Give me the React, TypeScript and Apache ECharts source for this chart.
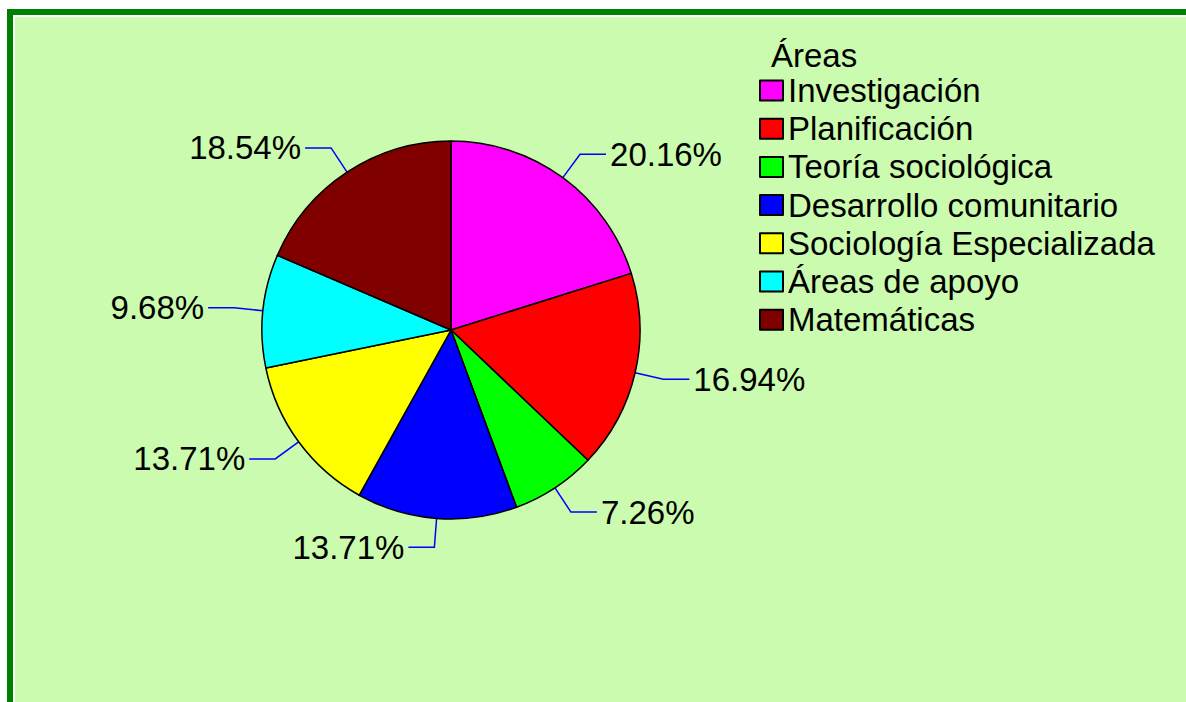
import React, { useEffect, useRef } from "react";
import * as echarts from "echarts";

const legendTitle = "Áreas";
const categories = [
  "Investigación",
  "Planificación",
  "Teoría sociológica",
  "Desarrollo comunitario",
  "Sociología Especializada",
  "Áreas de apoyo",
  "Matemáticas",
];
const percentages = [20.16, 16.94, 7.26, 13.71, 13.71, 9.68, 18.54];
const sliceColors = ["#FF00FF", "#FF0000", "#00FF00", "#0000FF", "#FFFF00", "#00FFFF", "#800000"];

const FONT = "'Liberation Sans', Arial, sans-serif";

export default function App() {
  const ref = useRef<HTMLDivElement>(null);

  useEffect(() => {
    document.body.style.margin = "0";
    document.body.style.overflow = "hidden";
    if (!ref.current) return;
    const chart = echarts.init(ref.current, undefined, { renderer: "svg" });
    chart.setOption({
      animation: false,
      backgroundColor: "#FFFFFF",
      color: sliceColors,
      graphic: [
        { type: "rect", z: -3, silent: true, shape: { x: 7, y: 9, width: 1200, height: 720 }, style: { fill: "#008000" } },
        { type: "rect", z: -2, silent: true, shape: { x: 13, y: 15, width: 1200, height: 720 }, style: { fill: "#FFFFFF" } },
        { type: "rect", z: -1, silent: true, shape: { x: 15, y: 17, width: 1200, height: 720 }, style: { fill: "#CBFBAE" } },
        {
          type: "text",
          z: 5,
          x: 771,
          y: 55,
          style: {
            text: legendTitle,
            fontFamily: FONT,
            fontSize: 33,
            fill: "#000000",
            verticalAlign: "middle",
            align: "left",
          },
        },
      ],
      legend: {
        orient: "vertical",
        left: 759,
        top: 74,
        padding: 0,
        itemWidth: 23,
        itemHeight: 20,
        itemGap: 5.2,
        icon: "rect",
        itemStyle: { borderColor: "#000000", borderWidth: 2 },
        textStyle: { fontFamily: FONT, fontSize: 33, color: "#000000", lineHeight: 33 },
        data: categories,
      },
      series: [
        {
          type: "pie",
          center: [451, 330],
          radius: 189,
          startAngle: 90,
          clockwise: true,
          avoidLabelOverlap: false,
          itemStyle: { borderColor: "#000000", borderWidth: 1.5 },
          label: {
            show: true,
            position: "outside",
            fontFamily: FONT,
            fontSize: 33,
            color: "#000000",
            distanceToLabelLine: 4,
            formatter: (p: any) => `${Number(p.value).toFixed(2)}%`,
          },
          labelLine: {
            show: true,
            length: 29,
            length2: 26,
            smooth: false,
            lineStyle: { color: "#0000FF", width: 1.5 },
          },
          emphasis: { disabled: true },
          data: categories.map((name, i) => ({ name, value: percentages[i] })),
        },
      ],
    });
    return () => chart.dispose();
  }, []);

  return (
    <div
      ref={ref}
      style={{ position: "absolute", left: 0, top: 0, width: 1186, height: 702 }}
    />
  );
}
